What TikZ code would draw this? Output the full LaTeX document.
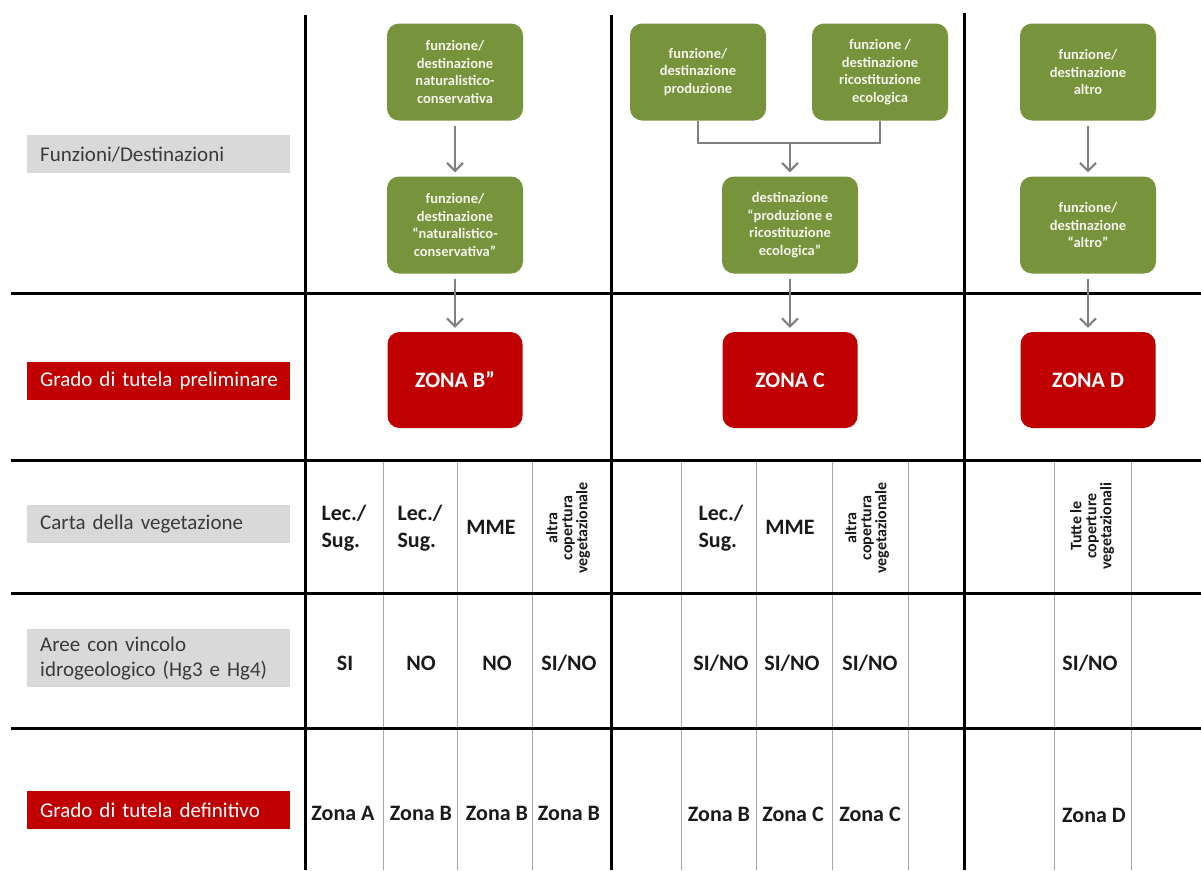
\documentclass[tikz,border=0pt]{standalone}
\usepackage{fontspec}
\setmainfont{Carlito}
\usetikzlibrary{arrows.meta}
\definecolor{boxgreen}{HTML}{77933C}
\definecolor{boxtext}{HTML}{F4F4EA}
\definecolor{zonered}{HTML}{C00000}
\definecolor{labgray}{HTML}{D9D9D9}
\definecolor{labtext}{HTML}{3A3A3A}
\definecolor{celltext}{HTML}{1A1A1A}
\definecolor{thingray}{HTML}{A6A6A6}
\definecolor{arrgray}{HTML}{808080}
\newcommand{\oneline}[1]{\makebox[0pt][l]{#1}}
\begin{document}
\begin{tikzpicture}[x=1pt,y=-1pt,
  gbox/.style={fill=boxgreen, rounded corners=12pt, minimum width=136pt, minimum height=97pt, inner sep=2pt, align=center, text=boxtext, font=\bfseries\fontsize{14.5}{17.5}\selectfont},
  rbox/.style={fill=zonered, rounded corners=12pt, minimum width=135pt, minimum height=96pt, text=white, font=\bfseries\fontsize{22}{26}\selectfont},
  glabel/.style={fill=labgray, anchor=north west, minimum height=38pt, text width=237pt, inner xsep=13pt, inner ysep=0pt, align=left, text=labtext, font=\fontsize{21}{25}\selectfont},
  rlabel/.style={glabel, fill=zonered, text=white},
  cell/.style={font=\bfseries\fontsize{22}{27}\selectfont, text=celltext, inner sep=0pt, align=left},
  vcell/.style={rotate=90, font=\bfseries\fontsize{16}{15}\selectfont, align=center, inner sep=0pt, text=celltext},
  heavyline/.style={line width=3pt, black},
  gridline/.style={line width=1pt, thingray},
  conn/.style={draw=arrgray, line width=2pt},
  arr/.style={conn, -{Straight Barb[length=8pt,width=16pt]}, shorten <=5pt, shorten >=4pt}
]
\useasboundingbox[fill=white] (0,0) rectangle (1201,870);

% grid lines
\foreach \x in {383,457,532,681,756,832,908,1054,1131}
  \draw[gridline] (\x,460) -- (\x,870);
\foreach \y in {293,460,593,728}
  \draw[heavyline] (11,\y) -- (1201,\y);
\draw[heavyline] (305,15) -- (305,870);
\draw[heavyline] (611,15) -- (611,870);
\draw[heavyline] (964,13) -- (964,870);

% row labels
\node[glabel] (l1) at (27,135) {\oneline{Funzioni/Destinazioni}};
\node[rlabel] (l2) at (27,362) {\oneline{Grado di tutela preliminare}};
\node[glabel] (l3) at (27,505) {\oneline{Carta della vegetazione}};
\node[glabel, minimum height=58pt] (l4) at (27,629) {\oneline{Aree con vincolo}\\\oneline{idrogeologico (Hg3 e Hg4)}};
\node[rlabel] (l5) at (27,791) {\oneline{Grado di tutela definitivo}};

% green boxes
\node[gbox] (g1a) at (455,72) {funzione/\\destinazione\\naturalistico-\\conservativa};
\node[gbox] (g1b) at (455,225) {funzione/\\destinazione\\“naturalistico-\\conservativa”};
\node[gbox] (g2a) at (698,72) {funzione/\\destinazione\\produzione};
\node[gbox] (g2b) at (880,72) {funzione /\\destinazione\\ricostituzione\\ecologica};
\node[gbox] (g2c) at (790,225) {destinazione\\“produzione e\\ricostituzione\\ecologica”};
\node[gbox] (g3a) at (1088,72) {funzione/\\destinazione\\altro};
\node[gbox] (g3b) at (1088,225) {funzione/\\destinazione\\“altro”};

% red zone boxes
\node[rbox] (zb) at (455,380) {ZONA B”};
\node[rbox] (zc) at (790,380) {ZONA C};
\node[rbox] (zd) at (1088,380) {ZONA D};

% connectors
\coordinate (j2) at (790,143);
\draw[arr] (g1a.south) -- (g1b.north);
\draw[arr] (g1b.south) -- (zb.north);
\draw[conn] (g2a.south) |- (j2) -| (g2b.south);
\draw[arr, shorten <=0pt] (j2) -- (g2c.north);
\draw[arr] (g2c.south) -- (zc.north);
\draw[arr] (g3a.south) -- (g3b.north);
\draw[arr] (g3b.south) -- (zd.north);

% Carta della vegetazione row
\node[cell] (c11) at (344,528) {Lec./\\Sug.};
\node[cell] (c12) at (420,528) {Lec./\\Sug.};
\node[cell] (c13) at (491,527) {MME};
\node[vcell] (c14) at (568,528) {altra\\copertura\\vegetazionale};
\node[cell] (c21) at (721,528) {Lec./\\Sug.};
\node[cell] (c22) at (790,527) {MME};
\node[vcell] (c23) at (867,528) {altra\\copertura\\vegetazionale};
\node[vcell] (c31) at (1092,526) {Tutte le\\coperture\\vegetazionali};

% Aree row
\node[cell] (a11) at (345,663) {SI};
\node[cell] (a12) at (421,663) {NO};
\node[cell] (a13) at (497,663) {NO};
\node[cell] (a14) at (569,663) {SI/NO};
\node[cell] (a21) at (721,663) {SI/NO};
\node[cell] (a22) at (792,663) {SI/NO};
\node[cell] (a23) at (870,663) {SI/NO};
\node[cell] (a31) at (1090,663) {SI/NO};

% Grado definitivo row
\node[cell] (d11) at (343,813) {Zona A};
\node[cell] (d12) at (421,813) {Zona B};
\node[cell] (d13) at (497,813) {Zona B};
\node[cell] (d14) at (569,813) {Zona B};
\node[cell] (d21) at (719,814) {Zona B};
\node[cell] (d22) at (793,814) {Zona C};
\node[cell] (d23) at (870,814) {Zona C};
\node[cell] (d31) at (1094,815) {Zona D};
\end{tikzpicture}
\end{document}
